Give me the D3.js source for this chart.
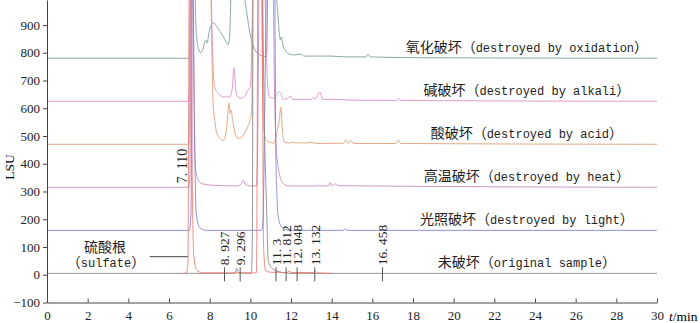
<!DOCTYPE html>
<html>
<head>
<meta charset="utf-8">
<script src="https://cdn.jsdelivr.net/npm/d3@7"></script>
<style>
  body { margin: 0; background: #fff; }
  svg { display: block; }
  .axis text { font-family: "Liberation Serif", serif; font-size: 13px; fill: #222; }
  .axis path, .axis line { stroke: #444; }
  .cn { font-family: "Noto Sans CJK SC", sans-serif; font-size: 14px; }
  .en { font-family: "Liberation Mono", monospace; font-size: 12px; }
  .num { font-family: "Liberation Serif", serif; font-size: 13.5px; }
</style>
</head>
<body>
<script>
'use strict';

// chromatograms: [time (min), signal above own baseline (LSU)]
const oxidation = [
  [0, 0], [6.98, 0], [7.03, 60], [7.08, 400], [7.15, 1500], [7.26, 400], [7.31, 150], [7.36, 80],
  [7.45, 35], [7.55, 20], [7.65, 28], [7.75, 58], [7.82, 66], [7.88, 55], [7.96, 90], [8.07, 118],
  [8.18, 128], [8.35, 115], [8.51, 96], [8.67, 78], [8.8, 60], [8.91, 48], [8.99, 90], [9.05, 250],
  [9.15, 500], [9.45, 450], [9.7, 230], [9.84, 156], [9.98, 91], [10.23, 30], [10.48, 12], [10.8, 6],
  [10.86, 250], [11.0, 700], [11.2, 500], [11.29, 220], [11.34, 174], [11.41, 102], [11.48, 66],
  [11.53, 77], [11.6, 48], [11.7, 30], [11.95, 15], [12.2, 12], [12.49, 15], [12.64, 8], [13.92, 8],
  [14.66, 5], [15.69, 5], [15.79, 15], [15.89, 5], [18.34, 2], [30, 0]
];
const alkali = [
  [0, 0], [6.95, 0], [7.02, 80], [7.1, 1200], [7.3, 900], [7.8, 700], [8.05, 500], [8.12, 250],
  [8.2, 80], [8.27, 47], [8.4, 30], [8.5, 22], [8.75, 15], [8.84, 18], [8.97, 14], [9.1, 40],
  [9.2, 119], [9.28, 40], [9.39, 15], [9.54, 11], [9.72, 18], [9.88, 40], [10.0, 54], [10.1, 300],
  [10.3, 1200], [10.6, 900], [10.75, 300], [10.85, 60], [10.95, 15], [11.13, 11], [11.3, 25],
  [11.38, 34], [11.49, 30], [11.62, 7], [11.85, 11], [11.95, 18], [12.1, 7], [13.0, 7], [13.1, 15],
  [13.18, 7], [13.42, 34], [13.56, 7], [14.25, 7], [15, 4], [17.2, 3], [17.3, 10], [17.4, 3], [30, 0]
];
const acid = [
  [0, 0], [6.95, 0], [7.0, 40], [7.08, 1000], [7.4, 800], [8.0, 700], [8.12, 300], [8.16, 159],
  [8.25, 86], [8.34, 44], [8.5, 22], [8.67, 14], [8.8, 40], [8.87, 86], [8.95, 148], [9.0, 112],
  [9.05, 123], [9.13, 86], [9.25, 40], [9.41, 22], [9.58, 26], [9.74, 44], [9.9, 68], [9.98, 86],
  [10.07, 123], [10.12, 600], [10.4, 1000], [10.55, 600], [10.6, 200], [10.65, 60], [10.8, 14],
  [10.97, 8], [11.13, 4], [11.2, 8], [11.3, 40], [11.42, 86], [11.5, 134], [11.57, 62], [11.67, 8],
  [11.95, 4], [12.03, 8], [12.28, 4], [12.44, 6], [12.77, 4], [12.89, 8], [13.26, 3], [14.57, 4],
  [14.71, 17], [14.82, 4], [14.94, 14], [15.07, 3], [17.17, 3], [17.28, 15], [17.4, 3], [30, 0]
];
const heat = [
  [0, 0], [6.98, 0], [7.03, 50], [7.1, 900], [7.18, 700], [7.25, 200], [7.3, 74], [7.36, 44],
  [7.44, 26], [7.61, 14], [8.02, 8], [9.33, 5], [9.58, 14], [9.66, 26], [9.75, 12], [9.99, 5],
  [10.3, 5], [10.35, 100], [10.45, 800], [10.8, 900], [11.1, 800], [11.2, 300], [11.29, 124],
  [11.37, 74], [11.46, 38], [11.62, 14], [11.87, 5], [13.26, 5], [13.34, 8], [13.42, 5], [13.83, 5],
  [13.92, 17], [14.0, 6], [14.17, 12], [14.33, 6], [30, 0]
];
const light = [
  [0, 0], [7.0, 0], [7.08, 60], [7.16, 1000], [7.25, 400], [7.3, 144], [7.33, 72], [7.41, 30],
  [7.5, 12], [7.67, 3], [7.84, 0], [10.55, 0], [10.62, 30], [10.72, 500], [10.85, 1100],
  [11.18, 1100], [11.25, 300], [11.3, 144], [11.34, 72], [11.41, 36], [11.49, 18], [11.65, 6],
  [11.96, 0], [14.57, 0], [14.66, 6], [14.75, 0], [30, 0]
];
const original = [
  [0, 0], [9.25, 0], [9.33, 18], [9.42, 2], [10.05, 0], [10.1, 150], [10.15, 1500], [10.45, 1500],
  [10.6, 1000], [10.7, 500], [10.8, 238], [10.88, 47], [11.07, 18], [11.36, 7], [11.7, 2], [12, 0], [30, 0]
];
const sulfate = [
  [6.7, 0], [6.85, 2], [6.93, 40], [7.0, 1200], [7.08, 1500], [7.15, 300], [7.22, 60], [7.38, 10],
  [7.54, 4], [7.7, 2], [10.3, 2], [10.4, 1500], [10.55, 1500], [10.65, 100], [10.75, 10], [11.0, 4],
  [11.8, 3], [11.9, 8], [12.0, 3], [13.1, 3], [13.2, 6], [13.3, 2], [14, 0]
];

const traces = [oxidation, alkali, acid, heat, light, original];
const baselines = [780, 625, 470, 315, 160, 5];
const namesCn = ['氧化破坏', '碱破坏', '酸破坏', '高温破坏', '光照破坏', '未破坏'];
const namesEn = ['destroyed by oxidation', 'destroyed by alkali', 'destroyed by acid',
  'destroyed by heat', 'destroyed by light', 'original sample'];
const colors = ['#7f9e9c', '#dc92c8', '#dfa07a', '#c68cba', '#8083e0', '#8a8a8a'];

const markTimes = [8.73, 9.5, 11.26, 11.76, 12.3, 13.17, 16.5];
const markLabels = ['8. 927', '9. 296', '11. 3', '11. 812', '12. 048', '13. 132', '16. 458'];

const xTicks = d3.range(0, 31, 2);
const yTicks = d3.range(-100, 901, 100);

const width = 700, height = 323;
const x = d3.scaleLinear().domain([0, 30]).range([47, 657]);
const y = d3.scaleLinear().domain([-100, 990]).range([302.5, 0]);

const svg = d3.select('body').append('svg')
  .attr('width', width).attr('height', height);

svg.append('clipPath').attr('id', 'plot')
  .append('rect').attr('x', 47).attr('y', 0).attr('width', 615).attr('height', 302.5);

const line = d3.line()
  .x((d) => x(d[0]))
  .y((d) => y(d[1]))
  .curve(d3.curveMonotoneX);

const plot = svg.append('g').attr('clip-path', 'url(#plot)');

traces.forEach((tr, i) => {
  plot.append('path')
    .datum(tr.map((d) => [d[0], d[1] + baselines[i]]))
    .attr('fill', 'none')
    .attr('stroke', colors[i])
    .attr('stroke-width', 0.9)
    .attr('d', line);
});

plot.append('path')
  .datum(sulfate.map((d) => [d[0], d[1] + baselines[5]]))
  .attr('fill', 'none')
  .attr('stroke', '#f0685a')
  .attr('stroke-width', 0.75)
  .attr('d', line);

// axes
svg.append('g').attr('class', 'axis')
  .attr('transform', `translate(${x(0)},0)`)
  .call(d3.axisLeft(y).tickValues(yTicks).tickSize(4).tickSizeOuter(0).tickPadding(3));

svg.append('g').attr('class', 'axis')
  .attr('transform', `translate(0,${y(-100)})`)
  .call(d3.axisBottom(x).tickValues(xTicks).tickSizeInner(-4).tickSizeOuter(0).tickPadding(8));

svg.append('text').attr('class', 'num')
  .attr('transform', `translate(14,167) rotate(-90)`)
  .attr('text-anchor', 'middle')
  .text('LSU');

const unit = svg.append('text').attr('class', 'num')
  .attr('x', 669).attr('y', 320.5);
unit.append('tspan').attr('font-style', 'italic').text('t');
unit.append('tspan').text('/min');

// series labels
traces.forEach((tr, i) => {
  const t = svg.append('text')
    .attr('x', x(23.6)).attr('y', y(baselines[i]) - 6)
    .attr('text-anchor', 'middle')
    .attr('fill', '#222');
  t.append('tspan').attr('class', 'cn').text(namesCn[i] + '（');
  t.append('tspan').attr('class', 'en').text(namesEn[i]);
  t.append('tspan').attr('class', 'cn').text('）');
});

// retention time marks
const base0 = y(baselines[5]);
markTimes.forEach((t, i) => {
  svg.append('line')
    .attr('x1', x(t)).attr('x2', x(t))
    .attr('y1', base0 - 6).attr('y2', base0 + 8)
    .attr('stroke', '#555').attr('stroke-width', 1);
  svg.append('text').attr('class', 'num')
    .attr('transform', `translate(${x(t)},${base0 - 8}) rotate(-90)`)
    .attr('dy', '0.35em')
    .attr('fill', '#222')
    .text(markLabels[i]);
});

svg.append('text').attr('class', 'num')
  .attr('transform', `translate(${x(6.62)},${y(330)}) rotate(-90)`)
  .attr('dy', '0.35em')
  .style('font-size', '14px')
  .attr('fill', '#222')
  .text('7. 110');

// sulfate pointer
svg.append('line')
  .attr('x1', x(5.05)).attr('x2', x(6.93))
  .attr('y1', y(65)).attr('y2', y(65))
  .attr('stroke', '#444').attr('stroke-width', 1);
svg.append('text').attr('class', 'cn')
  .attr('x', 105).attr('y', 251.5).attr('text-anchor', 'middle').attr('fill', '#222')
  .text('硫酸根');
const sl = svg.append('text')
  .attr('x', 106).attr('y', 266.5).attr('text-anchor', 'middle').attr('fill', '#222');
sl.append('tspan').attr('class', 'cn').text('（');
sl.append('tspan').attr('class', 'en').text('sulfate');
sl.append('tspan').attr('class', 'cn').text('）');
</script>
</body>
</html>
